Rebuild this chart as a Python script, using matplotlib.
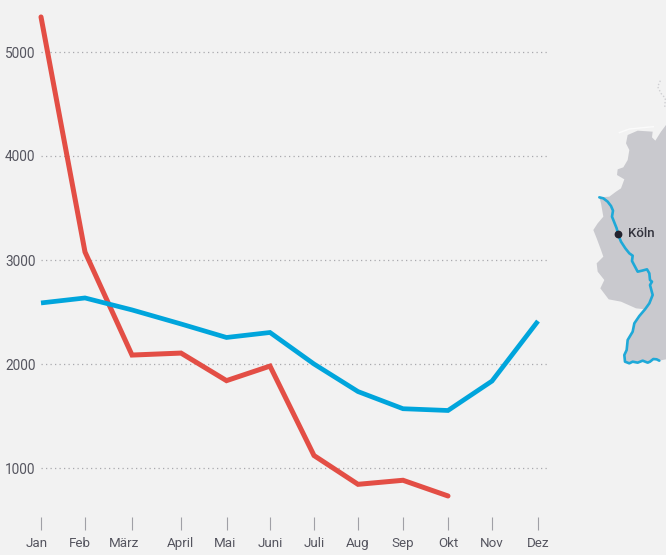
import matplotlib
matplotlib.use("Agg")
import matplotlib.pyplot as plt
from matplotlib.patches import Polygon
from matplotlib.transforms import Affine2D

plt.rcParams['font.family'] = ['Roboto', 'DejaVu Sans']

W, H = 666, 555
BG = '#f2f2f2'
TXT = '#55555f'

months = ['Jan', 'Feb', 'März', 'April', 'Mai', 'Juni', 'Juli', 'Aug', 'Sep', 'Okt', 'Nov', 'Dez']
month_pos = [0, 44, 91, 140, 185.5, 229, 273, 317, 362, 407, 451, 497]
label_shift = [-4.5, -5, -8, -1, -1, 0, 0, 0, 0, 0, 0, 0]
red_values = [5337, 3077, 2086, 2105, 1840, 1980, 1120, 843, 882, 731]
blue_values = [2587, 2635, 2520, 2385, 2255, 2303, 2000, 1735, 1570, 1553, 1836, 2413]
y_ticks = [1000, 2000, 3000, 4000, 5000]

# Locator map outline and river, in zoomed map units
map_west = [(300, 195), (285, 215), (268, 242), (258, 232), (260, 215), (215, 212), (185, 225),
            (180, 250), (190, 270), (185, 300), (172, 322), (155, 328), (153, 345), (175, 358),
            (165, 385), (150, 395), (130, 410), (100, 412), (105, 430), (112, 470), (95, 490),
            (82, 510), (92, 535), (105, 570), (112, 590), (92, 610), (95, 635), (115, 660),
            (103, 685), (128, 718), (165, 725), (210, 745), (237, 748)]
rhine = [(100, 412), (112, 415), (125, 425), (135, 438), (141, 452), (138, 470), (146, 490),
         (152, 505), (157, 525), (165, 545), (178, 565), (190, 580), (200, 587), (198, 603),
         (207, 620), (215, 635), (228, 632), (243, 628), (250, 640), (252, 660), (258, 665),
         (252, 675), (260, 705), (250, 730), (237, 748), (220, 768), (205, 790), (200, 815),
         (185, 840), (182, 870), (175, 885), (177, 905), (190, 910), (200, 905), (215, 908),
         (230, 902), (245, 908), (252, 905), (262, 897), (272, 898), (280, 902)]
map_south_edge = [(300, 898)]
coast = [(160, 218), (190, 207), (262, 200)]
islands = [(283, 62), (275, 80), (285, 100), (298, 115), (296, 145)]


def to_px(points):
    return [(566 + x / 3, 60 + y / 3) for x, y in points]


fig = plt.figure(figsize=(W / 100, H / 100), dpi=100, facecolor=BG)

# Map layer in pixel coordinates
mp = fig.add_axes([0, 0, 1, 1])
mp.set_xlim(0, W)
mp.set_ylim(H, 0)
mp.axis('off')
south = rhine[rhine.index((237, 748)) + 1:]
mp.add_patch(Polygon(to_px(map_west + south + map_south_edge), closed=True, fc='#c9c9ce', ec='none'))
cx, cy = zip(*to_px(coast))
mp.plot(cx, cy, color='#fbfbfb', lw=1)
ix, iy = zip(*to_px(islands))
mp.plot(ix, iy, color='#cfcfd3', lw=1, ls=(0, (1, 1.5)))
rx, ry = zip(*to_px(rhine))
mp.plot(rx, ry, color='#1fa9d8', lw=1.9, solid_capstyle='round', solid_joinstyle='round')
mp.plot([618], [234], 'o', color='#22222e', ms=4.6)
mp.text(628, 233.5, 'Köln', color='#33333d', fontsize=9.5, fontweight='medium', va='center', ha='left')

# Chart layer
px_per_unit = 0.104
top_px, bottom_px = 0, 517
ax = fig.add_axes([41 / W, 1 - bottom_px / H, (548 - 41) / W, (bottom_px - top_px) / H])
ax.patch.set_alpha(0)
ax.set_xlim(0, 507)
ax.set_ylim(1000 + (468 - bottom_px) / px_per_unit, 1000 + (468 - top_px) / px_per_unit)
for s in ax.spines.values():
    s.set_visible(False)

ax.set_yticks(y_ticks)
ax.set_yticklabels([str(v) for v in y_ticks], color=TXT, fontsize=9.8)
ax.tick_params(axis='y', length=0, pad=4)
ax.grid(axis='y', color='#a9a9ae', lw=0.9, ls=(0, (1, 2.6)))
ax.set_axisbelow(True)

ax.set_xticks(month_pos)
ax.set_xticklabels(months, color=TXT, fontsize=9.6)
ax.tick_params(axis='x', length=9.4, width=0.8, color='#a0a0a6', pad=5)
for lab, sh in zip(ax.get_xticklabels(), label_shift):
    lab.set_transform(lab.get_transform() + Affine2D().translate(sh, 0))

ax.plot(month_pos[:len(red_values)], red_values, color='#e34e45', lw=3.6, clip_on=False,
        solid_capstyle='round', solid_joinstyle='miter')
ax.plot(month_pos, blue_values, color='#00a5dc', lw=3.4, clip_on=False,
        solid_capstyle='butt', solid_joinstyle='miter')

fig.savefig('out.png', dpi=100, facecolor=BG)
